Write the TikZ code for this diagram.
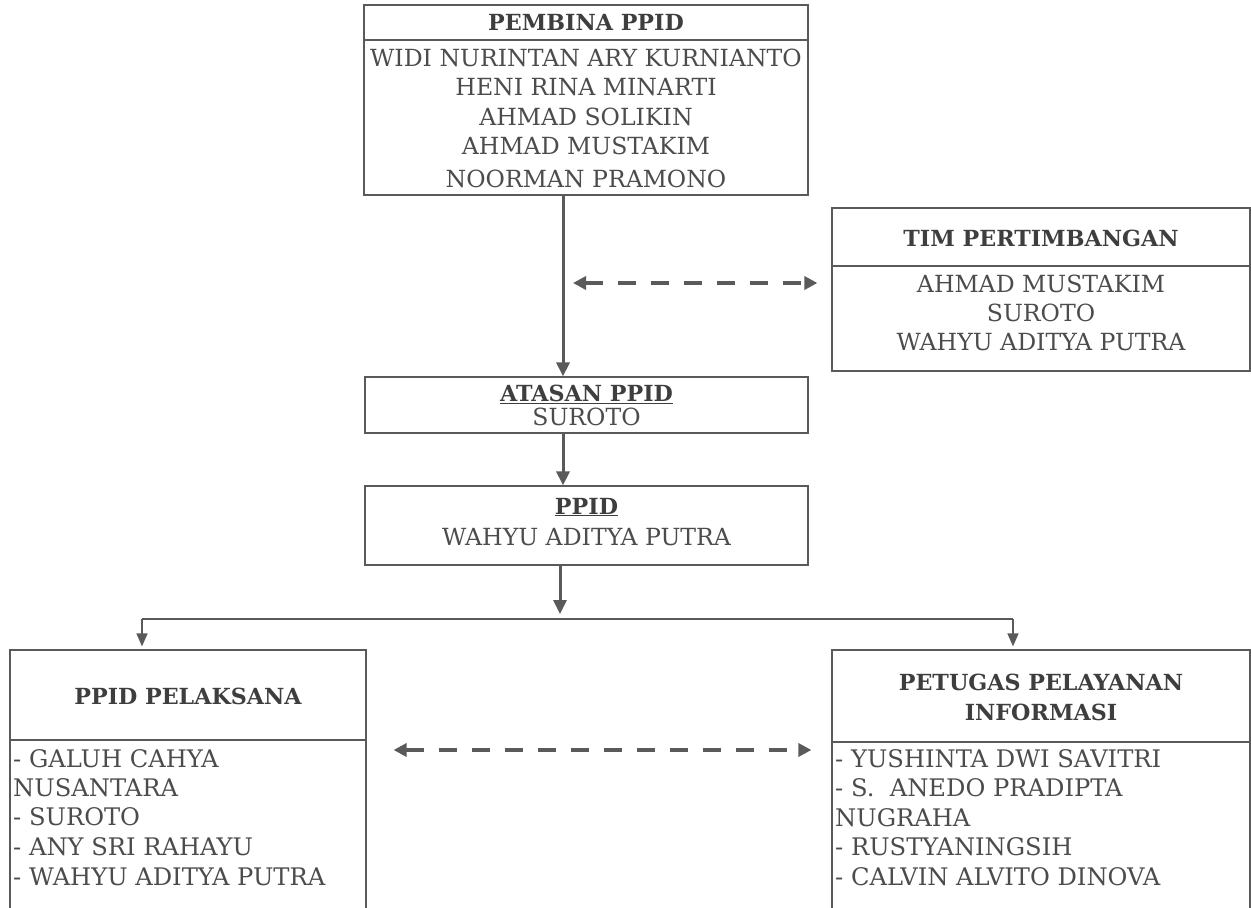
\documentclass[tikz,border=0pt]{standalone}
\usepackage{fontspec}
\setmainfont{DejaVu Serif}
\usetikzlibrary{arrows.meta}
\definecolor{ink}{HTML}{4C4C4C}
\definecolor{tink}{HTML}{3E3E3E}
\definecolor{edge}{HTML}{5A5A5A}
\begin{document}
\begin{tikzpicture}[x=1pt,y=-1pt,
  box/.style={draw=edge,line width=1.2pt,rectangle,inner sep=0pt},
  divider/.style={draw=edge,line width=1.2pt},
  names/.style={font=\fontsize{23.6}{28}\selectfont,text=ink,inner sep=0pt,anchor=base},
  lnames/.style={font=\fontsize{24.2}{28}\selectfont,text=ink,inner sep=0pt,anchor=base west},
  title/.style={font=\fontsize{22.2}{26}\selectfont\bfseries,text=tink,inner sep=0pt,anchor=base},
  mainarrow/.style={draw=edge,line width=3pt,-{Triangle[length=14pt,width=13pt]}},
  dasharrow/.style={draw=edge,line width=4pt,dash pattern=on 18pt off 15pt,{Triangle[length=13pt,width=13pt]}-{Triangle[length=13pt,width=13pt]}},
  thinline/.style={draw=edge,line width=1.5pt},
  thinarrow/.style={draw=edge,line width=1.5pt,-{Triangle[length=13pt,width=11pt]}}]
\useasboundingbox[fill=white] (0,0) rectangle (1251,908);

% boxes
\node[box,minimum width=444pt,minimum height=190pt] (pembina) at (586,100) {};
\node[box,minimum width=418pt,minimum height=163pt] (tim) at (1041,289.5) {};
\node[box,minimum width=443pt,minimum height=56pt] (atasan) at (586.5,405) {};
\node[box,minimum width=443pt,minimum height=79pt] (ppid) at (586.5,525.5) {};
\node[box,minimum width=356pt,minimum height=280pt] (pelaksana) at (188,790) {};
\node[box,minimum width=418pt,minimum height=280pt] (petugas) at (1041,790) {};

% dividers
\draw[divider] (364,40) -- (808,40);
\draw[divider] (832,266) -- (1250,266);
\draw[divider] (10,740) -- (366,740);
\draw[divider] (832,742) -- (1250,742);

% texts: pembina
\node[title] (tpemb) at (586,30) {PEMBINA PPID};
\node[names] (p1) at (586,66) {WIDI NURINTAN ARY KURNIANTO};
\node[names] (p2) at (586,95) {HENI RINA MINARTI};
\node[names] (p3) at (586,125) {AHMAD SOLIKIN};
\node[names] (p4) at (586,154) {AHMAD MUSTAKIM};
\node[names] (p5) at (586,187) {NOORMAN PRAMONO};

% tim
\node[title] (ttim) at (1041,246) {TIM PERTIMBANGAN};
\node[names] (t1) at (1041,292) {AHMAD MUSTAKIM};
\node[names] (t2) at (1041,321) {SUROTO};
\node[names] (t3) at (1041,350) {WAHYU ADITYA PUTRA};

% atasan
\node[title] (tatasan) at (586.5,401) {\underline{ATASAN PPID}};
\node[names] (a1) at (586.5,425) {SUROTO};

% ppid
\node[title] (tppid) at (586.5,514) {\underline{PPID}};
\node[names] (pp1) at (586.5,545) {WAHYU ADITYA PUTRA};

% pelaksana
\node[title] (tpel) at (188,704) {PPID PELAKSANA};
\node[lnames] (l1) at (13,767) {- GALUH CAHYA};
\node[lnames] (l2) at (13,796) {NUSANTARA};
\node[lnames] (l3) at (13,825) {- SUROTO};
\node[lnames] (l4) at (13,855) {- ANY SRI RAHAYU};
\node[lnames] (l5) at (13,885) {- WAHYU ADITYA PUTRA};

% petugas
\node[title] (tpet1) at (1041,690) {PETUGAS PELAYANAN};
\node[title] (tpet2) at (1041,720) {INFORMASI};
\node[lnames] (r1) at (835,767) {- YUSHINTA DWI SAVITRI};
\node[lnames] (r2) at (835,796) {- S.\ \ ANEDO PRADIPTA};
\node[lnames] (r3) at (835,826) {NUGRAHA};
\node[lnames] (r4) at (835,855) {- RUSTYANINGSIH};
\node[lnames] (r5) at (835,885) {- CALVIN ALVITO DINOVA};

% connectors
\coordinate (axis) at (563,0);
\draw[mainarrow] (pembina.south -| axis) -- (atasan.north -| axis);
\draw[mainarrow] (atasan.south -| axis) -- (ppid.north -| axis);
\coordinate (fork) at (560,619);
\draw[mainarrow,shorten >=5pt] (ppid.south -| fork) -- (fork);
\coordinate (lx) at (142,619);
\coordinate (rx) at (1013,619);
\draw[thinline] (lx) -- (rx);
\draw[thinarrow,shorten >=3pt] (lx) -- (pelaksana.north -| lx);
\draw[thinarrow,shorten >=3pt] (rx) -- (petugas.north -| rx);
\coordinate (d1) at (573,283);
\draw[dasharrow,shorten >=14pt] (d1) -- (tim.west |- d1);
\coordinate (d2) at (0,750);
\draw[dasharrow,shorten <=27pt,shorten >=20pt] (pelaksana.east |- d2) -- (petugas.west |- d2);
\end{tikzpicture}
\end{document}
